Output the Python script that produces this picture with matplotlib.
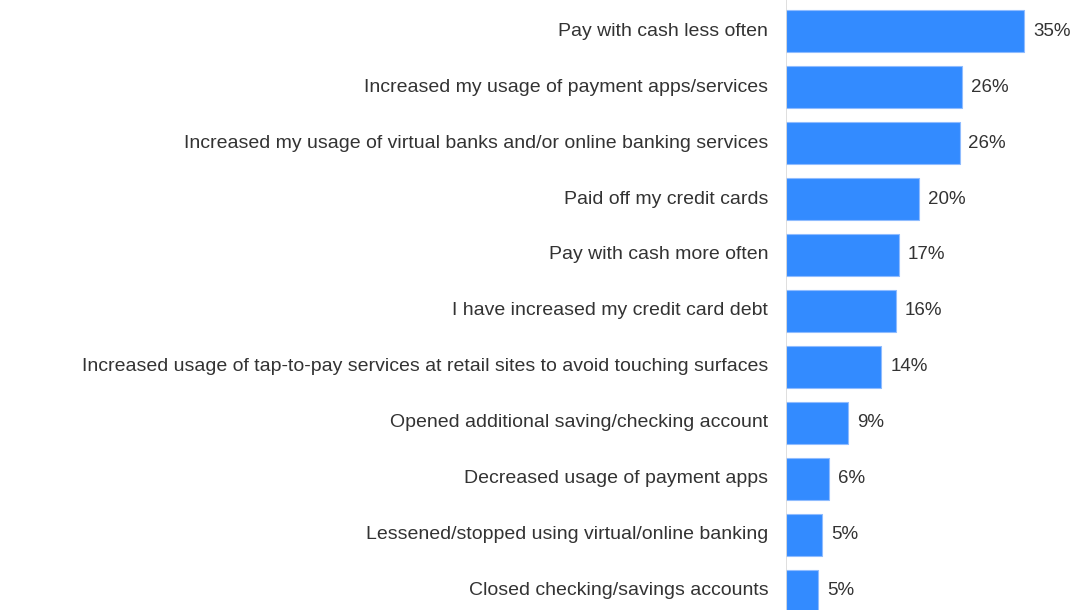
import matplotlib.pyplot as plt

plt.rcParams['font.family'] = ['Liberation Sans', 'DejaVu Sans']

labels = [
    'Pay with cash less often',
    'Increased my usage of payment apps/services',
    'Increased my usage of virtual banks and/or online banking services',
    'Paid off my credit cards',
    'Pay with cash more often',
    'I have increased my credit card debt',
    'Increased usage of tap-to-pay services at retail sites to avoid touching surfaces',
    'Opened additional saving/checking account',
    'Decreased usage of payment apps',
    'Lessened/stopped using virtual/online banking',
    'Closed checking/savings accounts',
]
shares = [35.0, 25.9, 25.5, 19.5, 16.6, 16.2, 14.0, 9.1, 6.3, 5.3, 4.7]

bar_color = '#338bff'
text_color = '#333333'

fig = plt.figure(figsize=(10.8, 6.1), dpi=100)
ax = fig.add_axes([786 / 1080, 0, 1 - 786 / 1080, 1])

pos = list(range(len(labels)))
ax.barh(pos, shares, height=0.75, color=bar_color, edgecolor='#8fbcff', linewidth=0.8)

for y, v, lab in zip(pos, shares, labels):
    ax.text(v + 1.3, y, f'{round(v)}%', va='center', ha='left',
            fontsize=13.5, color=text_color)
    ax.text(-2.6, y, lab, va='center', ha='right', fontsize=14, color=text_color)

ax.set_xlim(0, 43.2)
ax.set_ylim(10.34, -0.554)
ax.axvline(0, color='#d9d9d9', linewidth=1.2)
ax.set_xticks([])
ax.set_yticks([])
for s in ax.spines.values():
    s.set_visible(False)

fig.savefig('out.png', dpi=100)
